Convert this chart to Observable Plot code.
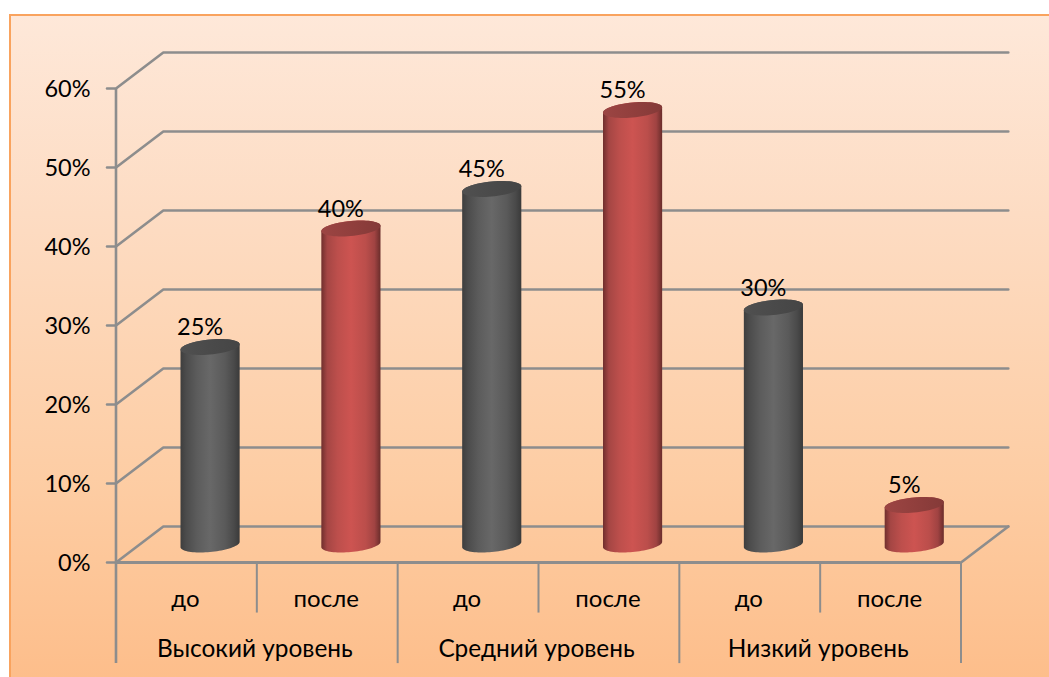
<!DOCTYPE html>
<html lang="ru"><head><meta charset="utf-8">
<style>
html,body{margin:0;padding:0;background:#fff;overflow:hidden}
#panel{position:absolute;left:9px;top:14px;right:0;bottom:0;background:linear-gradient(#fee8d9 0%,#fddcc3 30%,#fdcda4 70%,#fdbe8b 100%);border-left:2px solid #f9a35e;border-top:2px solid #f9a35e;box-sizing:border-box}
#chart{position:absolute;left:0;top:0}
svg{background:transparent!important}
</style>
<script src="https://cdn.jsdelivr.net/npm/d3@7"></script>
<script src="https://cdn.jsdelivr.net/npm/@observablehq/plot@0.6"></script>
</head><body><div id="panel"></div><div id="chart"></div>
<script>
const phases = ["до","после","до","после","до","после"];
const levels = ["Высокий уровень","Средний уровень","Низкий уровень"];
const percents = [25,40,45,55,30,5];
const ticks = [0,10,20,30,40,50,60];

// Projection constants, in data units: slots on x, percent on y
const depthX = 0.336, depthY = 4.56;
const halfW = 0.21, capH = 0.95, capTilt = 0.34;
const font = "Lato, Carlito, 'Open Sans', sans-serif";

const bars = percents.map((v,i)=>({v,i,cx:i+0.5+depthX/2,cy:v+depthY/2,by:depthY/2,even:i%2===0}));
const ell = (cx,cy,t)=>[cx+halfW*Math.cos(t),cy+capH*Math.sin(t)+capTilt*Math.cos(t)];
const range = (a,b,n=40)=>d3.range(n+1).map(k=>a+(b-a)*k/n);
const bodyPts = b=>[
  ...range(0,Math.PI).map(t=>ell(b.cx,b.cy,t)),
  ...range(Math.PI,2*Math.PI).map(t=>ell(b.cx,b.by,t))
].map(([x,y])=>({x,y,z:b.i}));
const capPts = b=>range(0,2*Math.PI,60).map(t=>ell(b.cx,b.cy,t)).map(([x,y])=>({x,y,z:b.i}));

const grid = ticks.flatMap(v=>[
  {x:-9/140.83,y:v,z:v},{x:0,y:v,z:v},{x:depthX,y:v+depthY,z:v},{x:6+depthX,y:v+depthY,z:v}
]);
const grey="#8d8d8d";
const below = -12.8, mid = -6.4;
const dividers=[0,1,2,3,4,5,6].map(x=>({x,end:x%2===0?below:mid}));

const svgDefs = ()=>{
  const ns="http://www.w3.org/2000/svg";
  const defs=document.createElementNS(ns,"defs");
  const add=(id,stops)=>{
    const g=document.createElementNS(ns,"linearGradient");
    g.setAttribute("id",id);
    stops.forEach(([o,c])=>{const s=document.createElementNS(ns,"stop");s.setAttribute("offset",o);s.setAttribute("stop-color",c);g.appendChild(s);});
    defs.appendChild(g);
  };
  add("gBody",[[0,"#3e3e3e"],[.1,"#4c4c4c"],[.28,"#5c5c5c"],[.5,"#686868"],[.75,"#5a5a5a"],[.9,"#4a4a4a"],[1,"#3a3a3a"]]);
  add("rBody",[[0,"#702f2d"],[.1,"#a54644"],[.28,"#bd4f4c"],[.5,"#cd5451"],[.75,"#bb4e4b"],[.9,"#a04342"],[1,"#6a2d2b"]]);
  add("gCap",[[0,"#505050"],[.5,"#4a4a4a"],[1,"#454545"]]);
  add("rCap",[[0,"#9c4543"],[.5,"#913f3d"],[1,"#843a38"]]);
  return defs;
};

const evenBars=bars.filter(b=>b.even), oddBars=bars.filter(b=>!b.even);
const plot = Plot.plot({
  width:1049,height:677,margin:0,
  style:{background:"transparent",fontFamily:font},
  x:{type:"linear",domain:[0,6],range:[115.5,960.5],axis:null},
  y:{type:"linear",domain:[0,60],range:[562,88],axis:null},
  marks:[
    svgDefs,
    Plot.line(grid,{x:"x",y:"y",z:"z",stroke:grey,strokeWidth:2.6}),
    Plot.ruleY([0],{x1:0,x2:6,stroke:grey,strokeWidth:2.8}),
    Plot.ruleX([0],{y1:-12.8,y2:60,stroke:grey,strokeWidth:2.6}),
    Plot.line([{x:6,y:0},{x:6+depthX,y:depthY}],{x:"x",y:"y",stroke:grey,strokeWidth:2.6}),
    Plot.ruleX(dividers,{x:"x",y1:0,y2:"end",stroke:grey,strokeWidth:2}),
    Plot.line(evenBars.flatMap(bodyPts),{x:"x",y:"y",z:"z",fill:"url(#gBody)",stroke:"none"}),
    Plot.line(oddBars.flatMap(bodyPts),{x:"x",y:"y",z:"z",fill:"url(#rBody)",stroke:"none"}),
    Plot.line(evenBars.flatMap(capPts),{x:"x",y:"y",z:"z",fill:"url(#gCap)",stroke:"none"}),
    Plot.line(oddBars.flatMap(capPts),{x:"x",y:"y",z:"z",fill:"url(#rCap)",stroke:"none"}),
    Plot.text(ticks,{x:-25.5/140.83,y:d=>d,text:d=>d+"%",textAnchor:"end",fontSize:23.5,fill:"#000",dy:1}),
    Plot.text(bars,{x:d=>d.cx-10/140.83,y:d=>d.cy+2.48,text:d=>d.v+"%",fontSize:23.5,fill:"#000",dy:0.5}),
    Plot.text(phases,{x:(d,i)=>i+0.5,y:-4.65,text:d=>d,fontSize:24,fill:"#000",dx:-1}),
    Plot.text(levels,{x:(d,i)=>2*i+1,y:-11,text:d=>d,fontSize:24.4,fill:"#000",dx:-2})
  ]
});
document.getElementById("chart").appendChild(plot);
</script></body></html>
